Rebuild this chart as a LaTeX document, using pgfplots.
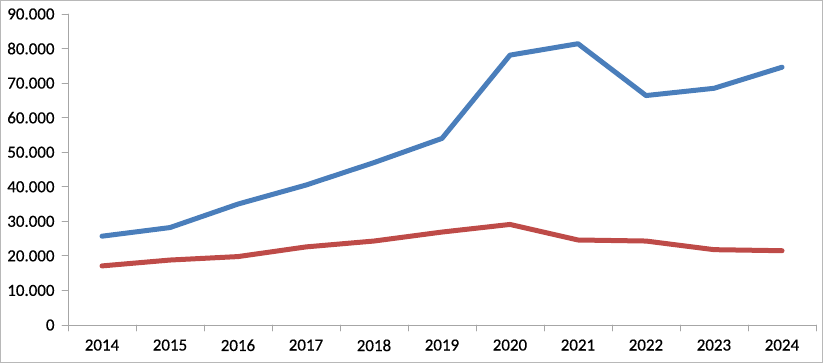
\documentclass[border=0pt]{standalone}
\usepackage{pgfplots}
\pgfplotsset{compat=1.18}
\usepackage{fontspec}
\setmainfont{Carlito}
\newfontfamily\lab[FakeBold=0.5]{Carlito}
\definecolor{ablue}{HTML}{4A7EBB}
\definecolor{ared}{HTML}{BE4B48}
\definecolor{axgray}{HTML}{A6A6A6}
\begin{document}
\begin{tikzpicture}[x=1bp,y=1bp]
\useasboundingbox (-68,-38) rectangle (756,325);
\draw[color=axgray!80,line width=1.2bp] (-67.4,-37.4) rectangle (754.6,324.4);
\begin{axis}[
  at={(0,0)}, anchor=origin,
  scale only axis, width=748bp, height=311bp,
  xmin=2013.5, xmax=2024.5, ymin=0, ymax=90000,
  axis x line*=bottom, axis y line*=left,
  axis line style={axgray, line width=0.8bp},
  xtick={2014,...,2024},
  minor xtick={2013.5,2014.5,...,2024.5},
  major x tick style={draw=none},
  minor x tick style={axgray, line width=0.8bp},
  ytick={0,10000,...,90000},
  y tick style={axgray, line width=0.8bp},
  tick align=outside, major tick length=6bp, minor tick length=6bp,
  scaled y ticks=false,
  x tick label style={font=\fontsize{17}{19}\lab,yshift=-5bp},
  y tick label style={font=\fontsize{17}{19}\lab,/pgf/number format/1000 sep={.},xshift=-4bp},
  /pgf/number format/assume math mode=true,
  xticklabel={\pgfmathprintnumber[1000 sep={}]{\tick}},
  line join=round, line cap=round,
]
\addplot[ablue, line width=5bp, mark=none] coordinates {
(2014,25700) (2015,28200) (2016,35000) (2017,40500) (2018,47000) (2019,54000)
(2020,78100) (2021,81400) (2022,66400) (2023,68500) (2024,74600)};
\addplot[ared, line width=5bp, mark=none] coordinates {
(2014,17100) (2015,18800) (2016,19800) (2017,22600) (2018,24300) (2019,26900)
(2020,29100) (2021,24600) (2022,24300) (2023,21800) (2024,21500)};
\end{axis}
\end{tikzpicture}
\end{document}
